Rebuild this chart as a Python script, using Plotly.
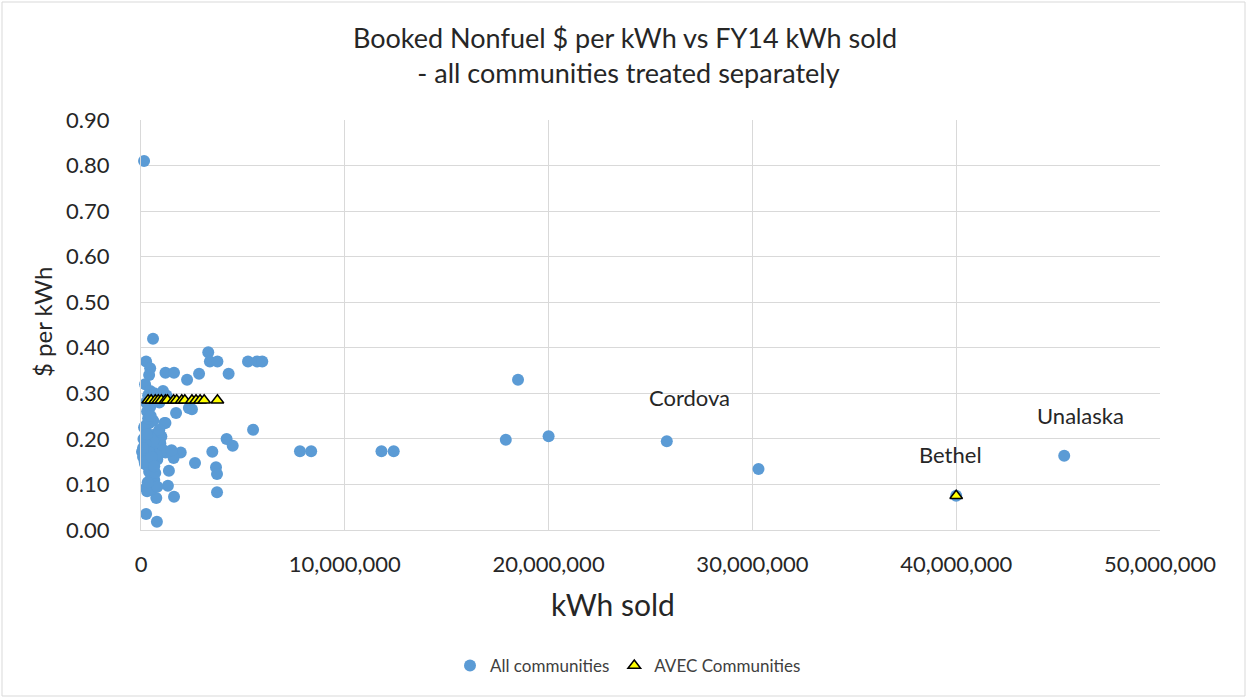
import plotly.graph_objects as go

# All communities: kWh sold (millions) and $ per kWh
all_kwh_m = [0.15, 0.59, 0.25, 0.45, 0.40, 0.20, 0.45, 1.08, 1.20, 1.62, 2.26, 2.85,
             3.30, 3.38, 3.75, 4.30, 5.25, 5.70, 5.95, 0.35, 0.65, 1.25, 0.50, 2.50,
             0.30, 1.72, 2.35, 0.40, 1.15, 0.25, 0.60, 1.20, 0.30, 0.45, 0.70, 1.00,
             0.30, 0.95, 0.15, 0.60, 1.20, 1.95, 0.05, 0.30, 0.80, 1.60, 2.65, 0.40,
             1.37, 0.65, 0.25, 0.75, 1.32, 1.62, 0.25, 0.78, 3.50, 4.20, 4.50, 3.68,
             3.73, 3.73, 5.50, 7.80, 8.35, 11.8, 12.4, 17.9, 18.5, 20.0, 25.8, 30.3,
             40.0, 45.3, 0.10, 0.20, 0.35, 0.50, 0.55, 0.70, 0.85, 0.90, 0.50, 0.55,
             0.30, 0.70, 0.80, 1.10, 1.50, 0.45, 0.25, 0.90, 0.60, 0.15, 0.35, 0.75,
             0.12, 0.22, 0.40, 0.18, 0.28, 0.52, 0.65, 0.10, 0.33, 0.48]
all_rate = [0.81, 0.42, 0.37, 0.355, 0.34, 0.32, 0.305, 0.305, 0.345, 0.345, 0.33, 0.343,
            0.39, 0.37, 0.37, 0.343, 0.37, 0.37, 0.37, 0.295, 0.30, 0.295, 0.29, 0.265,
            0.26, 0.257, 0.268, 0.235, 0.235, 0.23, 0.24, 0.235, 0.213, 0.20, 0.21, 0.205,
            0.187, 0.19, 0.17, 0.173, 0.17, 0.17, 0.172, 0.158, 0.155, 0.158, 0.147, 0.128,
            0.13, 0.11, 0.092, 0.07, 0.097, 0.073, 0.035, 0.018, 0.172, 0.20, 0.185, 0.138,
            0.123, 0.083, 0.22, 0.173, 0.173, 0.173, 0.173, 0.198, 0.33, 0.206, 0.195, 0.134,
            0.075, 0.163, 0.16, 0.145, 0.14, 0.18, 0.15, 0.19, 0.165, 0.22, 0.12, 0.09,
            0.085, 0.125, 0.095, 0.175, 0.175, 0.27, 0.28, 0.28, 0.195, 0.225, 0.245, 0.165,
            0.20, 0.19, 0.17, 0.15, 0.21, 0.16, 0.14, 0.18, 0.105, 0.25]

# AVEC communities
avec_kwh_m = [0.35, 0.50, 0.70, 0.85, 1.00, 1.20, 1.30, 1.60, 1.75, 2.00, 2.15, 2.50,
              2.70, 2.90, 3.10, 3.75, 40.0]
avec_rate = [0.285] * 16 + [0.075]

labels = ["Cordova", "Bethel", "Unalaska"]
label_x_m = [26.9, 39.7, 46.1]
label_y = [0.29, 0.165, 0.252]

x_tick_vals = [0, 10e6, 20e6, 30e6, 40e6, 50e6]
x_tick_text = ["0", "10,000,000", "20,000,000", "30,000,000", "40,000,000", "50,000,000"]

FONT = "Lato"
TXT = "#262626"

fig = go.Figure()
fig.add_trace(go.Scatter(
    x=[v * 1e6 for v in all_kwh_m], y=all_rate, mode="markers", name="All communities",
    marker=dict(symbol="circle", size=12, color="#5b9bd5"), cliponaxis=False))
fig.add_trace(go.Scatter(
    x=[v * 1e6 for v in avec_kwh_m], y=avec_rate, mode="markers", name="AVEC Communities",
    marker=dict(symbol="triangle-up", size=11, color="#ffff00",
                line=dict(color="black", width=1.5)), cliponaxis=False))

for t, xm, yv in zip(labels, label_x_m, label_y):
    fig.add_annotation(x=xm * 1e6, y=yv, text=t, showarrow=False,
                       font=dict(family=FONT, size=22, color=TXT))

# Chart title
fig.add_annotation(xref="paper", yref="paper", x=(625 - 141) / 1019, y=(530 - 54.5) / 410,
                   xanchor="center", yanchor="middle", showarrow=False,
                   text="Booked Nonfuel $ per kWh vs FY14 kWh sold<br> - all communities treated separately",
                   font=dict(family=FONT, size=27, color=TXT))
# Axis titles
fig.add_annotation(xref="paper", yref="paper", x=(613 - 141) / 1019, y=(530 - 604) / 410,
                   xanchor="center", yanchor="middle", showarrow=False,
                   text="kWh sold", font=dict(family=FONT, size=30, color=TXT))
fig.add_annotation(xref="paper", yref="paper", x=(42 - 141) / 1019, y=(530 - 322) / 410,
                   xanchor="center", yanchor="middle", showarrow=False, textangle=-90,
                   text="$ per kWh", font=dict(family=FONT, size=24, color=TXT))

fig.add_shape(type="rect", xref="paper", yref="paper",
              x0=-139 / 1019, x1=1104 / 1019, y0=-166 / 410, y1=528 / 410,
              line=dict(color="#d9d9d9", width=1))

fig.update_layout(
    width=1247, height=698,
    margin=dict(l=141, r=87, t=120, b=168),
    paper_bgcolor="white", plot_bgcolor="white",
    font=dict(family=FONT, color=TXT),
    xaxis=dict(range=[0, 50e6], tickvals=x_tick_vals, ticktext=x_tick_text,
               showgrid=True, gridcolor="#d9d9d9", zeroline=False,
               showline=True, linecolor="#d9d9d9", ticklabelstandoff=15,
               tickfont=dict(family=FONT, size=22, color=TXT)),
    yaxis=dict(range=[0, 0.9], dtick=0.1, tickformat=".2f",
               showgrid=True, gridcolor="#d9d9d9", zeroline=False,
               showline=True, linecolor="#d9d9d9", ticklabelstandoff=26,
               tickfont=dict(family=FONT, size=22, color=TXT)),
    legend=dict(orientation="h", x=(628 - 141) / 1019, xanchor="center",
                y=(530 - 666) / 410, yanchor="middle",
                font=dict(family=FONT, size=17, color="#404040")),
    showlegend=True,
)

fig.write_html("out.html", config={"displayModeBar": False},
               post_script="document.body.style.margin='0';")
